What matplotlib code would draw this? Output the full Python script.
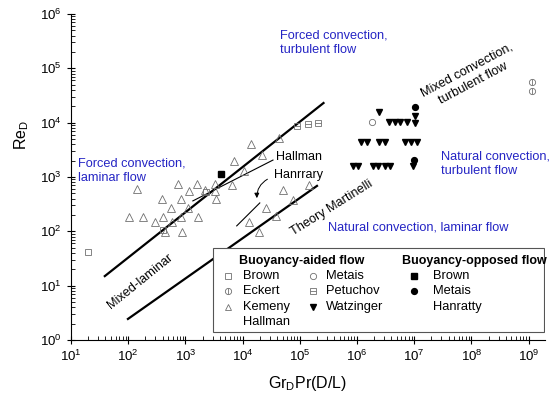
import numpy as np
import matplotlib.pyplot as plt
from matplotlib.patches import Rectangle
from matplotlib.ticker import LogLocator, FuncFormatter, NullFormatter

plt.rcParams.update({'font.family': ['Liberation Sans', 'DejaVu Sans'],
                     'mathtext.fontset': 'custom',
                     'mathtext.rm': 'Liberation Sans',
                     'mathtext.it': 'Liberation Sans:italic',
                     'font.size': 9})

# buoyancy-aided flow
brown_x = [20, 400, 2270]
brown_y = [42, 106, 537]
eckert_x = [1.16e9, 1.16e9]
eckert_y = [5.7e4, 3.9e4]
kemeny_x = [144, 733, 1610, 3230, 6440, 1160, 3230, 385, 855, 3430, 550, 1090,
            104, 184, 411, 828, 1640, 294, 590, 440, 883, 1.4e4, 4.28e4, 7130,
            2.16e4, 1.05e4, 5.02e4, 2.54e4, 3.84e4, 1.31e4, 1.96e4, 7.6e4,
            1.44e5, 2200]
kemeny_y = [592, 731, 731, 731, 716, 562, 562, 386, 386, 386, 273, 273,
            183, 183, 183, 183, 183, 147, 147, 97, 97, 3980, 5300, 1995,
            2550, 1294, 566, 270, 188, 146, 97, 378, 716, 578]
metais_x = [1.86e6]
metais_y = [1.02e4]
petuchov_x = [8.8e4, 1.41e5, 2.09e5]
petuchov_y = [8850, 9380, 9770]
watz_x = [2.45e6, 3.63e6, 4.57e6, 5.75e6, 7.4e6, 1.02e7, 1.02e7,
          1.2e6, 1.48e6, 2.45e6, 3.09e6, 6.9e6, 8.7e6, 1.1e7,
          8.6e5, 1.05e6, 1.93e6, 2.34e6, 3.09e6, 3.8e6, 9.5e6]
watz_y = [1.55e4, 1.02e4, 1.02e4, 1.02e4, 1.02e4, 1.35e4, 9800,
          4470, 4470, 4470, 4470, 4470, 4470, 4470,
          1580, 1580, 1580, 1580, 1580, 1580, 1580]

# buoyancy-opposed flow
brown_opp_x = [4140]
brown_opp_y = [1120]
metais_opp_x = [1.02e7, 1.0e7]
metais_opp_y = [1.93e4, 2040]

# boundary lines
mixed_upper_x = [39, 2.6e5]
mixed_upper_y = [15, 2.3e4]
mixed_lower_x = [99, 2.0e5]
mixed_lower_y = [2.44, 686]
hallman_x = [1350, 3.4e4]
hallman_y = [363, 2050]
hanratty_x = [7900, 2.0e4]
hanratty_y = [126, 333]

gray = '#707070'
blue = '#2424c4'

fig = plt.figure(figsize=(5.49, 3.98), dpi=100)
ax = fig.add_axes([71 / 549, 1 - 340 / 398, 474 / 549, 326 / 398])
ax.set_xscale('log')
ax.set_yscale('log')
ax.set_xlim(10, 1.94e9)
ax.set_ylim(1, 1e6)

ax.plot(mixed_upper_x, mixed_upper_y, color='black', lw=1.6)
ax.plot(mixed_lower_x, mixed_lower_y, color='black', lw=1.6)
ax.plot(hallman_x, hallman_y, color='black', lw=0.8)
ax.plot(hanratty_x, hanratty_y, color='black', lw=0.8)

mk = dict(ls='none', mfc='none', mec=gray, mew=0.6)
ax.plot(brown_x, brown_y, marker='s', ms=4.5, **mk)
ax.plot(eckert_x, eckert_y, marker='o', ms=4.5, **mk)
ax.plot(eckert_x, eckert_y, marker='|', ms=4.5, **mk)
ax.plot(kemeny_x, kemeny_y, marker='^', ms=5.8, **mk)
ax.plot(metais_x, metais_y, marker='o', ms=4.5, **mk)
ax.plot(petuchov_x, petuchov_y, marker='s', ms=4.5, **mk)
ax.plot(petuchov_x, petuchov_y, marker='_', ms=4.5, **mk)
ax.plot(watz_x, watz_y, marker='v', ms=4.5, ls='none', color='black')
ax.plot(brown_opp_x, brown_opp_y, marker='s', ms=3.8, ls='none', color='black')
ax.plot(metais_opp_x, metais_opp_y, marker='o', ms=4.2, ls='none', color='black')

# region labels
ax.text(4.5e4, 3.0e5, 'Forced convection,\nturbulent flow', color=blue,
        fontsize=9.2, ha='left', va='center', linespacing=1.3)
ax.text(13.2, 1320, 'Forced convection,\nlaminar flow', color=blue,
        fontsize=9.2, ha='left', va='center', linespacing=1.3)
ax.text(2.94e7, 1742, 'Natural convection,\nturbulent flow', color=blue,
        fontsize=9.2, ha='left', va='center', linespacing=1.3)
ax.text(3.11e5, 115.6, 'Natural convection, laminar flow', color=blue,
        fontsize=9.2, ha='left', va='center')
ax.text(9.5e7, 6.97e4, 'Mixed convection,\nturbulent flow', fontsize=9.2,
        rotation=28, ha='center', va='center', rotation_mode='anchor',
        linespacing=1.3)
ax.text(161, 12.2, 'Mixed-laminar', fontsize=9.2, rotation=39,
        ha='center', va='center', rotation_mode='anchor')
ax.text(3.66e5, 270, 'Theory Martinelli', fontsize=9.2, rotation=32,
        ha='center', va='center', rotation_mode='anchor')
ax.text(3.84e4, 2345, 'Hallman', fontsize=9, ha='left', va='center')
ax.text(3.54e4, 1093, 'Hanrrary', fontsize=9, ha='left', va='center')
ax.annotate('', xy=(1.79e4, 363), xytext=(3.0e4, 963),
            arrowprops=dict(arrowstyle='-|>', color='black', lw=0.7,
                            mutation_scale=7,
                            connectionstyle='arc3,rad=0.35'))

# legend box drawn by hand
ax.add_patch(Rectangle((0.2996, 0.0245), 0.698, 0.2575, transform=ax.transAxes,
                       fc='white', ec='#555555', lw=0.8, zorder=5))
ax.text(0.354, 0.243, 'Buoyancy-aided flow', transform=ax.transAxes,
        fontsize=9, fontweight='bold', va='center', zorder=6)
ax.text(0.698, 0.243, 'Buoyancy-opposed flow', transform=ax.transAxes,
        fontsize=9, fontweight='bold', va='center', zorder=6)

leg_rows = [0.196, 0.149, 0.101, 0.054]
leg_cols = [
    (0.332, 0.362, [('Brown', 's', None, 'open'), ('Eckert', 'o', '|', 'open'),
                    ('Kemeny', '^', None, 'open'), ('Hallman', None, None, '')]),
    (0.511, 0.538, [('Metais', 'o', None, 'open'), ('Petuchov', 's', '_', 'open'),
                    ('Watzinger', 'v', None, 'fill')]),
    (0.724, 0.764, [('Brown', 's', None, 'fill'), ('Metais', 'o', None, 'fill'),
                    ('Hanratty', None, None, '')]),
]
for mx, tx, items in leg_cols:
    for row, (name, m1, m2, kind) in zip(leg_rows, items):
        if m1 is not None:
            if kind == 'open':
                ax.plot([mx], [row], marker=m1, ms=4.5, transform=ax.transAxes,
                        zorder=7, clip_on=False, **mk)
                if m2:
                    ax.plot([mx], [row], marker=m2, ms=4.5, transform=ax.transAxes,
                            zorder=7, clip_on=False, **mk)
            else:
                ax.plot([mx], [row], marker=m1, ms=4.2, color='black',
                        transform=ax.transAxes, zorder=7, clip_on=False)
        ax.text(tx, row, name, transform=ax.transAxes, fontsize=9.3,
                va='center', zorder=7)

# axes styling
for s in ['top', 'right']:
    ax.spines[s].set_visible(False)
dec = FuncFormatter(lambda v, p: '$10^{%d}$' % round(np.log10(v)))
ax.xaxis.set_major_locator(LogLocator(base=10, numticks=20))
ax.yaxis.set_major_locator(LogLocator(base=10, numticks=20))
ax.xaxis.set_minor_locator(LogLocator(base=10, subs=np.arange(2, 10), numticks=20))
ax.yaxis.set_minor_locator(LogLocator(base=10, subs=np.arange(2, 10), numticks=20))
ax.xaxis.set_major_formatter(dec)
ax.yaxis.set_major_formatter(dec)
ax.xaxis.set_minor_formatter(NullFormatter())
ax.yaxis.set_minor_formatter(NullFormatter())
ax.tick_params(which='major', direction='inout', length=6, width=0.8, labelsize=9.5)
ax.tick_params(which='minor', direction='in', length=3, width=0.6)

ax.set_xlabel('Gr$_{\\mathrm{D}}$Pr(D/L)', fontsize=11.5)
ax.set_ylabel('Re$_{\\mathrm{D}}$', fontsize=11.5)
ax.xaxis.set_label_coords(0.5, -0.105)
ax.yaxis.set_label_coords(-0.085, 0.63)

fig.savefig('out.png', dpi=100)
